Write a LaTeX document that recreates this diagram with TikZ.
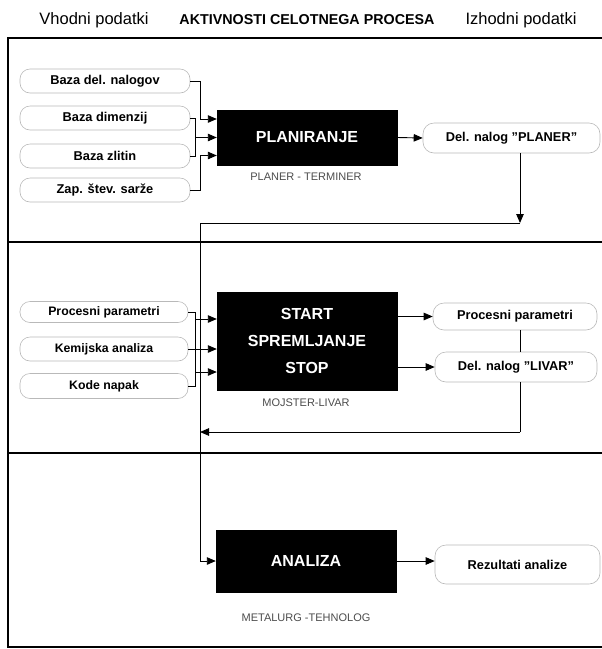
\documentclass[tikz,border=0pt]{standalone}
\usepackage{fontspec}
\setmainfont{Liberation Sans}
\usetikzlibrary{arrows.meta,calc}
\begin{document}
\begin{tikzpicture}[x=1pt,y=-1pt,
  inbox/.style={draw=gray!55, line width=0.6pt, rounded corners=10pt, minimum width=170pt, minimum height=24pt, inner sep=0pt, font=\bfseries\fontsize{12.8}{14}\selectfont},
  outbox/.style={draw=gray!55, line width=0.6pt, rounded corners=11pt, inner sep=0pt, font=\bfseries\fontsize{12.8}{14}\selectfont},
  actbox/.style={fill=black, draw=black, minimum width=180pt, inner sep=0pt, text=white, font=\bfseries\fontsize{16}{27}\selectfont, align=center},
  rolelbl/.style={text=gray!60!black, font=\fontsize{11}{13}\selectfont, inner sep=0pt},
  hdr/.style={font=\fontsize{16.5}{18}\selectfont, inner sep=0pt},
  conn/.style={line width=0.9pt},
  arr/.style={line width=0.9pt, -{Triangle[length=9pt,width=7.5pt]}},
  frame/.style={line width=1.3pt}
]
\useasboundingbox (0,0) rectangle (602,649);
% headers
\node[hdr] (h1) at (94,20) {Vhodni podatki};
\node[hdr, font=\bfseries\fontsize{14.3}{16}\selectfont] (h2) at (307,20) {AKTIVNOSTI CELOTNEGA PROCESA};
\node[hdr] (h3) at (521,20) {Izhodni podatki};
% frame
\draw[frame] (602,38) -- (8,38) -- (8,647) -- (602,647);
\draw[frame] (8,242) -- (602,242);
\draw[frame] (8,453) -- (602,453);

% ---------- section 1
\node[inbox] (in1) at (105,81) {Baza del. nalogov};
\node[inbox] (in2) at (105,118) {Baza dimenzij};
\node[inbox] (in3) at (105,156) {Baza zlitin};
\node[inbox] (in4) at (105,190) {Zap. štev. sarže};
\node[actbox, minimum height=55pt] (plan) at (307,137.5) {PLANIRANJE};
\node[rolelbl] (planl) at (306,177) {PLANER - TERMINER};
\node[outbox, minimum width=177pt, minimum height=30pt] (out1) at (511.5,138) {Del. nalog \char34PLANER\char34};

\draw[arr] (in1.east) -- (200,81) |- ([yshift=18.5pt]plan.west);
\draw[conn] (in2.east) -- (195,118) -- (195,156) -- (in3.east);
\draw[arr] (195,137.5) -- (plan.west);
\draw[arr] (in4.east) -- (200,190) |- ([yshift=-18pt]plan.west);
\draw[arr] (plan.east) -- (out1.west);
\coordinate (c1) at (520,223);
\coordinate (c2) at (200,223);
\draw[arr] ([xshift=8.5pt]out1.south) -- (c1);

% ---------- section 2
\node[inbox, minimum width=168pt, minimum height=21pt, font=\bfseries\fontsize{12.3}{14}\selectfont] (m1) at (104,312) {Procesni parametri};
\node[inbox, minimum width=168pt, minimum height=24pt, font=\bfseries\fontsize{12.3}{14}\selectfont] (m2) at (104,349) {Kemijska analiza};
\node[inbox, minimum width=168pt, minimum height=25pt, font=\bfseries\fontsize{12.3}{14}\selectfont] (m3) at (104,386) {Kode napak};
\node[actbox, minimum height=98pt] (start) at (307,341) {START\\SPREMLJANJE\\STOP};
\node[rolelbl] (startl) at (306,403) {MOJSTER-LIVAR};
\node[outbox, minimum width=164pt, minimum height=27pt] (o2) at (515,316.5) {Procesni parametri};
\node[outbox, minimum width=162pt, minimum height=30pt] (o3) at (516,367) {Del. nalog \char34LIVAR\char34};

\draw[conn] (m1.east) -- (195,312) -- (195,386) -- (m3.east);
\draw[arr] (195,319) -- (start.west |- 0,319);
\draw[arr] (m2.east) -- (start.west |- m2.east);
\draw[arr] (195,372) -- (start.west |- 0,372);
\draw[arr] (start.east |- 0,316.5) -- (o2.west);
\draw[arr] (start.east |- 0,367) -- (o3.west);
\draw[conn] ([xshift=5pt]o2.south) -- ([xshift=4pt]o3.north);
\coordinate (c3) at (520,432);
\coordinate (c4) at (200,432);
\draw[conn] ([xshift=4pt]o3.south) -- (c3);
\draw[arr] (c3) -- (c4);

% ---------- section 3
\node[actbox, minimum height=62pt] (ana) at (306,561) {ANALIZA};
\node[rolelbl] (anal) at (306,618) {METALURG -TEHNOLOG};
\node[outbox, minimum width=165pt, minimum height=39pt] (o4) at (517.5,564.5) {Rezultati analize};
\draw[arr] (ana.east) -- (o4.west |- ana.east);

% main flow line
\draw[conn] (c1) -- (c2);
\draw[arr] (c2) |- (ana.west);
\end{tikzpicture}
\end{document}
